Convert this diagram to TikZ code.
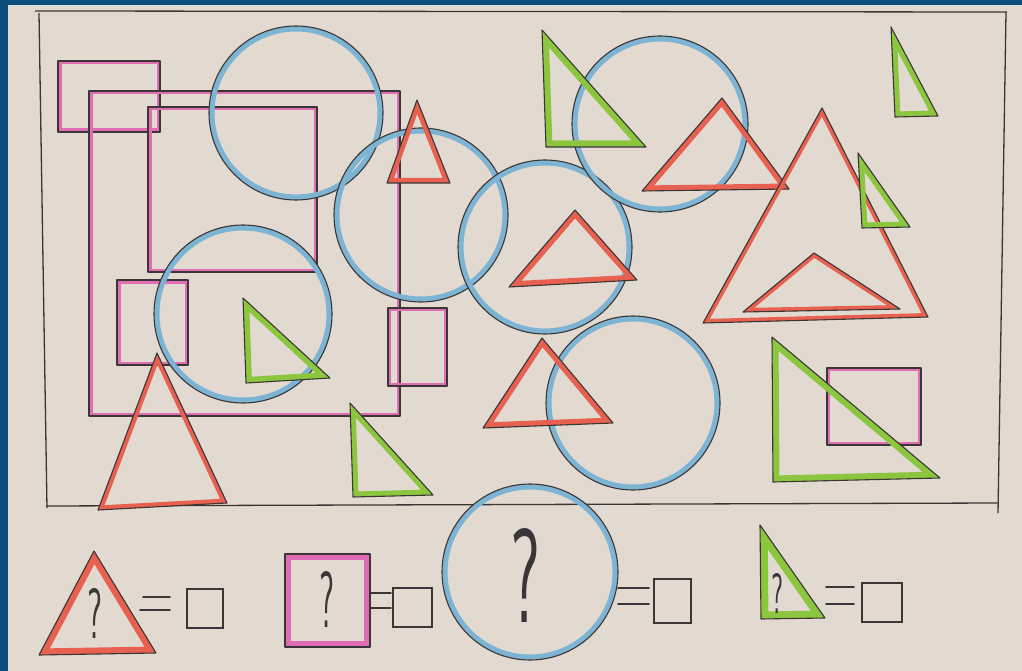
\documentclass[tikz,border=0pt]{standalone}
\usepackage{graphicx}
\definecolor{bgblue}{HTML}{0B507D}
\definecolor{paper}{HTML}{E2DAD0}
\definecolor{pencilc}{HTML}{3B3636}
\definecolor{redc}{HTML}{E8604F}
\definecolor{pinkc}{HTML}{DE6DB4}
\definecolor{greenc}{HTML}{8CC63F}
\definecolor{bluec}{HTML}{7DB3D3}
\newcommand{\ctri}[5]{%
  \begin{scope}\clip (#2)--(#3)--(#4)--cycle;
  \draw[#1,line width=#5,line join=miter] (#2)--(#3)--(#4)--cycle;\end{scope}
  \draw[pencil] (#2)--(#3)--(#4)--cycle;}
\newcommand{\ccirc}[4]{%
  \begin{scope}\clip (#2) circle (#3pt);
  \draw[#1,line width=#4] (#2) circle (#3pt);\end{scope}
  \draw[pencil] (#2) circle (#3pt);}
\newcommand{\crect}[4]{%
  \begin{scope}\clip (#2) rectangle (#3);
  \draw[#1,line width=#4] (#2) rectangle (#3);\end{scope}
  \draw[pencil] (#2) rectangle (#3);}
\begin{document}
\begin{tikzpicture}[x=1pt,y=-1pt,
  pencil/.style={draw=pencilc,line width=1.1pt,line join=round},
  frameline/.style={draw=pencilc,line width=1.3pt},
  eqline/.style={draw=pencilc,line width=1.6pt,line cap=round},
  answerbox/.style={draw=pencilc,line width=1.3pt},
  qm/.style={inner sep=0pt,text=pencilc,font=\sffamily}]
\useasboundingbox (0,0) rectangle (1022,671);
\fill[bgblue] (0,0) rectangle (1022,671);
\fill[paper] (8,5) rectangle (1022,671);
% frame
\draw[frameline] (35,11) -- (1007,12);
\draw[frameline] (39,13) -- (47,508);
\draw[frameline] (46,506) -- (998,503);
\draw[frameline] (1006,12) -- (998,513);
% pink rectangles
\crect{pinkc}{58,61}{160,132}{7}
\crect{pinkc}{89,91}{400,416}{7}
\crect{pinkc}{148,107}{317,272}{7}
\crect{pinkc}{117,280}{188,365}{7}
\crect{pinkc}{388,308}{447,386}{6}
\crect{pinkc}{827,368}{921,445}{6}
% blue circles
\ccirc{bluec}{296,113}{87}{11}
\ccirc{bluec}{421,215}{87}{11}
\ccirc{bluec}{545,247}{87}{11}
\ccirc{bluec}{243,314}{89}{11}
\ccirc{bluec}{660,124}{88}{11}
\ccirc{bluec}{633,403}{87}{11}
% red triangles
\ctri{redc}{417,100}{387,183}{450,183}{10}
\ctri{redc}{157,353}{98,510}{227,503}{9}
\ctri{redc}{575,210}{509,287}{637,280}{11}
\ctri{redc}{542,338}{483,428}{613,423}{11}
\ctri{redc}{722,98}{642,191}{789,189}{11}
\ctri{redc}{822,108}{703,323}{928,317}{8}
\ctri{redc}{814,253}{743,312}{900,309}{8}
% green right triangles
\ctri{greenc}{243,298}{246,383}{330,378}{12}
\ctri{greenc}{350,403}{353,497}{433,495}{11}
\ctri{greenc}{542,30}{546,147}{646,147}{13}
\ctri{greenc}{891,27}{895,117}{938,116}{11}
\ctri{greenc}{858,153}{862,228}{910,227}{11}
\ctri{greenc}{772,337}{773,482}{940,478}{13}
% bottom row
\ctri{redc}{94,551}{39,655}{156,653}{13}
\crect{pinkc}{285,554}{370,647}{12}
\ccirc{bluec}{530,572}{88}{11}
\ctri{greenc}{760,525}{761,619}{825,618}{15}
\node[qm] (q1) at (95,613) {\resizebox{15pt}{50pt}{?}};
\node[qm] (q2) at (327,599) {\resizebox{15pt}{56pt}{?}};
\node[qm] (q3) at (525,575) {\resizebox{30pt}{94pt}{?}};
\node[qm] (q4) at (777,593) {\resizebox{12pt}{40pt}{?}};
% equals and answer boxes
\draw[eqline] (143,597) -- (170,597);
\draw[eqline] (140,610) -- (170,610);
\draw[answerbox] (187,589) rectangle (223,628);
\draw[eqline] (370,593) -- (391,593);
\draw[eqline] (370,608) -- (391,608);
\draw[answerbox] (393,588) rectangle (432,627);
\draw[eqline] (618,588) -- (649,588);
\draw[eqline] (618,604) -- (649,604);
\draw[answerbox] (654,579) rectangle (691,623);
\draw[eqline] (826,587) -- (854,587);
\draw[eqline] (826,604) -- (854,604);
\draw[answerbox] (862,583) rectangle (902,622);
\end{tikzpicture}
\end{document}
